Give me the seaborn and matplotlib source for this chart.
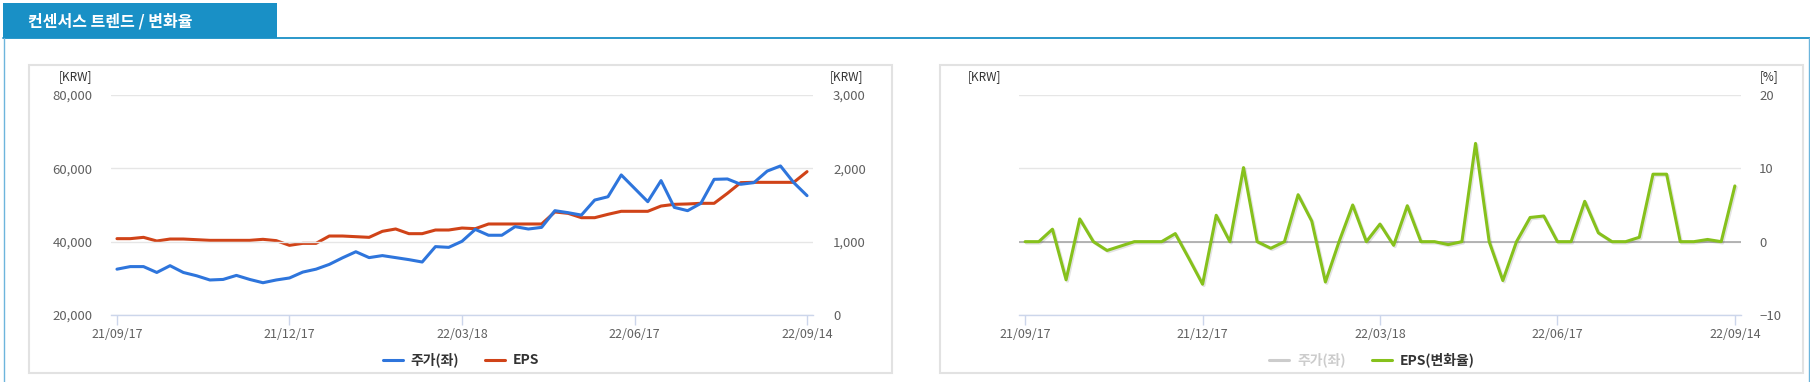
import matplotlib
matplotlib.use("Agg")
import matplotlib.pyplot as plt
import matplotlib.patheffects as pe
from matplotlib.patches import Rectangle
from matplotlib.lines import Line2D
import seaborn as sns
import pandas as pd

# weekly dates (last point is the latest update day)
dates = list(pd.date_range("2021-09-17", periods=52, freq="7D").strftime("%y/%m/%d")) + ["22/09/14"]

# 주가 (KRW, left axis)
price = [32500, 33200, 33200, 31600, 33450, 31600, 30700, 29550, 29700, 30800,
         29700, 28800, 29550, 30100, 31700, 32500, 33800, 35600, 37250, 35650,
         36200, 35650, 35100, 34450, 38650, 38450, 40100, 43350, 41750, 41750,
         44100, 43450, 43900, 48450, 47900, 47250, 51350, 52250, 58200, 54550,
         50900, 56650, 49350, 48450, 50450, 57000, 57100, 55650, 56100, 59250,
         60650, 56100, 52550]

# EPS (KRW, right axis)
eps = [1041, 1041, 1059, 1009, 1036, 1036, 1027, 1018, 1018, 1018,
       1018, 1032, 1014, 950, 977, 977, 1077, 1077, 1068, 1059,
       1141, 1173, 1109, 1109, 1159, 1159, 1186, 1177, 1241, 1241,
       1241, 1241, 1241, 1405, 1386, 1327, 1327, 1373, 1414, 1414,
       1414, 1486, 1509, 1514, 1523, 1523, 1659, 1805, 1809, 1809,
       1809, 1809, 1955]

# EPS 변화율 (%)
eps_chg = [0, 0, 1.7, -5.2, 3.1, 0, -1.2, -0.6, 0, 0,
           0, 1.1, -2.3, -5.8, 3.6, 0, 10.1, 0, -0.9, 0,
           6.4, 2.8, -5.5, 0, 5.0, 0, 2.4, -0.5, 4.9, 0,
           0, -0.4, 0, 13.4, 0, -5.3, 0, 3.3, 3.5, 0,
           0, 5.5, 1.2, 0, 0, 0.6, 9.2, 9.2, 0, 0,
           0.3, 0, 7.6]

price_ticks = [20000, 40000, 60000, 80000]
eps_ticks = [0, 1000, 2000, 3000]
chg_ticks = [-10, 0, 10, 20]

BLUE = "#2e75dc"
RED = "#d04318"
GREEN = "#86c11c"
HEAD = "#1990c6"
LABEL = "#606060"
GRID = "#e6e6e6"
AXLINE = "#ccd6eb"

sns.set_theme(style="white")
plt.rcParams["font.family"] = ["Noto Sans CJK KR", "DejaVu Sans"]

W, H = 1810, 382


def box(x0, y0, x1, y1):
    return [x0 / W, 1 - y1 / H, (x1 - x0) / W, (y1 - y0) / H]


fig = plt.figure(figsize=(W / 100, H / 100), dpi=100)

# header tab and frame
fig.add_artist(Rectangle((3 / W, 1 - 38 / H), 274 / W, 35 / H, transform=fig.transFigure,
                         facecolor=HEAD, edgecolor="none", zorder=-2))
fig.text(28 / W, 1 - 21 / H, "컨센서스 트렌드 / 변화율", color="white", fontsize=11.5,
         fontweight="bold", va="center", ha="left")
fig.add_artist(Line2D([3 / W, 1], [1 - 38 / H] * 2, transform=fig.transFigure, color=HEAD, lw=1.3, zorder=-2))
fig.add_artist(Line2D([3.5 / W] * 2, [0, 1 - 38 / H], transform=fig.transFigure, color="#6db5dc", lw=1, zorder=-2))
fig.add_artist(Line2D([1808.5 / W] * 2, [0, 1 - 38 / H], transform=fig.transFigure, color="#6db5dc", lw=1, zorder=-2))

# panel boxes (kept below the axes)
for x0, x1 in [(29, 892), (940, 1803)]:
    fig.add_artist(Rectangle((x0 / W, 1 - 373 / H), (x1 - x0) / W, 308 / H, transform=fig.transFigure,
                             facecolor="white", edgecolor="#e2e2e2", lw=1.5, zorder=-1))

df = pd.DataFrame({"date": dates, "price": price, "eps": eps, "eps_chg": eps_chg})
tick_idx = list(range(0, len(dates), 13))


def style_x(ax):
    ax.set_xlim(-0.45, len(dates) - 0.55)
    ax.set_xticks(tick_idx)
    ax.set_xticklabels([dates[i] for i in tick_idx])
    ax.tick_params(axis="x", bottom=True, direction="out", length=7, width=1, color=AXLINE,
                   pad=2, labelsize=9, labelcolor=LABEL)
    ax.set_xlabel("")
    ax.set_ylabel("")
    for s in ["top", "left", "right"]:
        ax.spines[s].set_visible(False)
    ax.spines["bottom"].set_color(AXLINE)
    ax.spines["bottom"].set_linewidth(1)
    ax.set_facecolor("none")


# ---- left chart: price + EPS ----
ax1 = fig.add_axes(box(111, 95, 813, 315))
ax1b = ax1.twinx()
sns.lineplot(data=df, x="date", y="price", ax=ax1, color=BLUE, lw=2.2, sort=False, zorder=3)
sns.lineplot(data=df, x="date", y="eps", ax=ax1b, color=RED, lw=2.2, sort=False, zorder=2)

ax1.set_ylim(20000, 80000)
ax1.set_yticks(price_ticks)
ax1.set_yticklabels([f"{v:,}" for v in price_ticks])
ax1.yaxis.grid(True, color=GRID, lw=1)
ax1.set_axisbelow(True)
ax1.tick_params(axis="y", length=0, pad=13.5, labelsize=9.5, labelcolor=LABEL)
style_x(ax1)

ax1b.set_ylim(0, 3000)
ax1b.set_yticks(eps_ticks)
ax1b.set_yticklabels([f"{v:,}" for v in eps_ticks])
ax1b.tick_params(axis="y", length=0, pad=14.5, labelsize=9.5, labelcolor=LABEL)
ax1b.set_ylabel("")
ax1b.set_facecolor("none")
for s in ax1b.spines.values():
    s.set_visible(False)
ax1b.grid(False)
# price line drawn over EPS line
ax1.set_zorder(2)
ax1b.set_zorder(1)

fig.text(92 / W, 1 - 77 / H, "[KRW]", fontsize=8.5, color="#333333", ha="right", va="center")
fig.text(863 / W, 1 - 77 / H, "[KRW]", fontsize=8.5, color="#333333", ha="right", va="center")

leg1 = fig.legend(handles=[Line2D([], [], color=BLUE, lw=2.2), Line2D([], [], color=RED, lw=2.2)],
                  labels=["주가(좌)", "EPS"], loc="center", bbox_to_anchor=(461 / W, 1 - 360 / H),
                  ncol=2, frameon=False, handlelength=1.45, handletextpad=0.55,
                  columnspacing=1.9, prop={"weight": "bold", "size": 10})
for t in leg1.get_texts():
    t.set_color("#333333")

# ---- right chart: EPS change rate ----
ax2 = fig.add_axes(box(1019, 95, 1741, 315))
sns.lineplot(data=df, x="date", y="eps_chg", ax=ax2, color=GREEN, lw=2.2, sort=False, zorder=3,
             path_effects=[pe.SimpleLineShadow(offset=(1, -1), alpha=0.12), pe.Normal()])
ax2.set_ylim(-10, 20)
ax2.set_yticks(chg_ticks)
ax2.yaxis.tick_right()
ax2.yaxis.grid(True, color=GRID, lw=1)
ax2.set_axisbelow(True)
ax2.axhline(0, color="#a8a8a8", lw=1.2, zorder=1.5)
ax2.tick_params(axis="y", left=False, right=False, length=0, pad=13, labelsize=9.5, labelcolor=LABEL)
style_x(ax2)

fig.text(1001 / W, 1 - 77 / H, "[KRW]", fontsize=8.5, color="#333333", ha="right", va="center")
fig.text(1760 / W, 1 - 77 / H, "[%]", fontsize=8.5, color="#333333", ha="left", va="center")

leg2 = fig.legend(handles=[Line2D([], [], color="#cccccc", lw=2.2), Line2D([], [], color=GREEN, lw=2.2)],
                  labels=["주가(좌)", "EPS(변화율)"], loc="center", bbox_to_anchor=(1372 / W, 1 - 360 / H),
                  ncol=2, frameon=False, handlelength=1.45, handletextpad=0.55,
                  columnspacing=1.9, prop={"weight": "bold", "size": 10})
leg2.get_texts()[0].set_color("#cccccc")
leg2.get_texts()[1].set_color("#333333")

fig.savefig("out.png", dpi=100)
plt.close(fig)
